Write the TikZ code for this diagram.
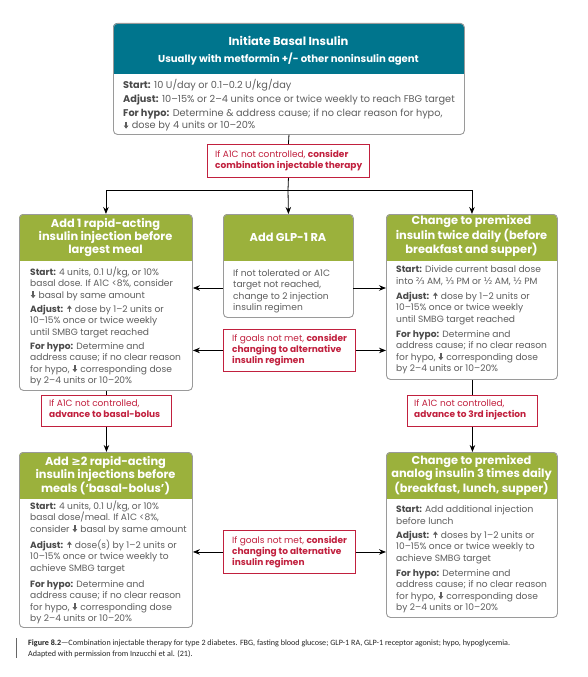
\documentclass[tikz,border=0pt]{standalone}
\usepackage{fontspec}
\setmainfont{Poppins}
\newfontfamily\symf{DejaVu Sans}
\newfontfamily\capf{Carlito}
\usetikzlibrary{arrows.meta}
\definecolor{hdteal}{HTML}{00758D}
\definecolor{hdgreen}{HTML}{9BB13C}
\definecolor{rdred}{HTML}{C1203E}
\definecolor{bxgray}{HTML}{9A9A9A}
\definecolor{txgray}{HTML}{5E5E5E}
\definecolor{lbgray}{HTML}{4A4A4A}
\newcommand\darr{\kern0.6pt\tikz[baseline=0pt,x=1pt,y=1pt]{\draw[txgray, line width=1.3pt, -{Triangle[length=3.2pt,width=4.6pt]}] (0,6.6) -- (0,-0.2);}\kern0.8pt}
\newcommand\uarr{\kern0.6pt\tikz[baseline=0pt,x=1pt,y=1pt]{\draw[txgray, line width=1.3pt, -{Triangle[length=3.2pt,width=4.6pt]}] (0,-0.2) -- (0,6.6);}\kern0.8pt}
\newcommand\lb[1]{{\bfseries\color{lbgray}#1}}
\newcommand\fr[1]{{\symf #1}}
% header fill: x1 y1 x2 y2 yh colour
\newcommand\hdfill[6]{%
  \begin{scope}
    \clip[rounded corners=4pt] (#1,#2) rectangle (#3,#4);
    \fill[#6] (#1,#2) rectangle (#3,#5);
  \end{scope}}
\tikzset{
  panel/.style={draw=bxgray, line width=0.9pt, rounded corners=4pt, inner sep=0pt, anchor=north west},
  redbox/.style={draw=rdred, line width=0.9pt, fill=white, inner sep=0pt, anchor=north west},
  hdtext/.style={anchor=base, align=center, inner sep=0pt, text=white, font=\bfseries\fontsize{11.4}{13}\selectfont},
  bodytext/.style={anchor=base west, align=left, inner sep=0pt, text=txgray, font=\fontsize{9.1}{11.5}\selectfont},
  redtext/.style={anchor=base west, align=left, inner sep=0pt, text=rdred, font=\fontsize{9}{11}\selectfont},
  arr/.style={-{Stealth[length=7pt,width=5.5pt]}, line width=0.8pt, black},
  conn/.style={line width=0.8pt, black},
}
\begin{document}
\begin{tikzpicture}[x=1pt,y=-1pt]
\fill[white] (0,0) rectangle (587,677);
\useasboundingbox (0,0) rectangle (587,677);

% ---- top box
\hdfill{113}{23}{464}{134}{74}{hdteal}
\node[panel, minimum width=351pt, minimum height=111pt] (top) at (113,23) {};
\node[hdtext, font=\bfseries\fontsize{11.5}{13}\selectfont] (toph1) at (288.5,46) {Initiate Basal Insulin};
\node[hdtext, font=\bfseries\fontsize{10.1}{13}\selectfont] (toph2) at (288.5,62.5) {Usually with metformin +/- other noninsulin agent};
\node[bodytext, font=\fontsize{9.75}{13}\selectfont] (topb) at (123,128.5) {%
\lb{Start:} 10 U/day or 0.1–0.2 U/kg/day\\[1pt]
\lb{Adjust:} 10–15\% or 2–4 units once or twice weekly to reach FBG target\\[1pt]
\lb{For hypo:} Determine \& address cause; if no clear reason for hypo,\\[-0.5pt]
\darr\ dose by 4 units or 10–20\%};

% ---- red box 1
\node[redbox, minimum width=162pt, minimum height=33pt] (r1) at (207,144) {};
\node[redtext] (r1t) at (215,168.5) {If A1C not controlled, \textbf{consider}\\\textbf{combination injectable therapy}};

% ---- left box 1
\hdfill{19}{214}{192}{390}{261}{hdgreen}
\node[panel, minimum width=173pt, minimum height=176pt] (L1) at (19,214) {};
\node[hdtext] (L1h) at (105.5,253.5) {Add 1 rapid-acting\\insulin injection before\\largest meal};
\node[bodytext] (L1b) at (30,383.5) {%
\lb{Start:} 4 units, 0.1 U/kg, or 10\%\\
basal dose. If A1C <8\%, consider\\
\darr\ basal by same amount\\[2.5pt]
\lb{Adjust:} \uarr\ dose by 1–2 units or\\
10–15\% once or twice weekly\\
until SMBG target reached\\[2.5pt]
\lb{For hypo:} Determine and\\
address cause; if no clear reason\\
for hypo, \darr\ corresponding dose\\
by 2–4 units or 10–20\%};

% ---- GLP box
\hdfill{223}{214}{353}{317}{261}{hdgreen}
\node[panel, minimum width=130pt, minimum height=103pt] (G) at (223,214) {};
\node[hdtext] (Gh) at (288,241.5) {Add GLP-1 RA};
\node[bodytext] (Gb) at (233,310.5) {If not tolerated or A1C\\target not reached,\\change to 2 injection\\insulin regimen};

% ---- goals box 1
\node[redbox, minimum width=132pt, minimum height=42pt] (g1) at (223,329) {};
\node[redtext] (g1t) at (232,363.5) {If goals not met, \textbf{consider}\\\textbf{changing to alternative}\\\textbf{insulin regimen}};

% ---- right box 1
\hdfill{386}{214}{557}{379}{261}{hdgreen}
\node[panel, minimum width=171pt, minimum height=165pt] (R1) at (386,214) {};
\node[hdtext] (R1h) at (471.5,253.5) {Change to premixed\\insulin twice daily (before\\breakfast and supper)};
\node[bodytext] (R1b) at (396,371.5) {%
\lb{Start:} Divide current basal dose\\
into \fr{⅔} AM, \fr{⅓} PM or \fr{½} AM, \fr{½} PM\\[3.5pt]
\lb{Adjust:} \uarr\ dose by 1–2 units or\\
10–15\% once or twice weekly\\
until SMBG target reached\\[3.5pt]
\lb{For hypo:} Determine and\\
address cause; if no clear reason\\
for hypo, \darr\ corresponding dose\\
by 2–4 units or 10–20\%};

% ---- red boxes level 2
\node[redbox, minimum width=130pt, minimum height=31pt] (r2l) at (41,395) {};
\node[redtext] (r2lt) at (49,417.5) {If A1C not controlled,\\\textbf{advance to basal-bolus}};
\node[redbox, minimum width=130pt, minimum height=31pt] (r2r) at (407,395) {};
\node[redtext] (r2rt) at (414,417.5) {If A1C not controlled,\\\textbf{advance to 3rd injection}};

% ---- left box 2
\hdfill{19}{452}{192}{627}{499}{hdgreen}
\node[panel, minimum width=173pt, minimum height=175pt] (L2) at (19,452) {};
\node[hdtext] (L2h) at (105.5,492.5) {Add \fr{\bfseries ≥}2 rapid-acting\\insulin injections before\\meals (‘basal-bolus’)};
\node[bodytext] (L2b) at (30,621.5) {%
\lb{Start:} 4 units, 0.1 U/kg, or 10\%\\
basal dose/meal. If A1C <8\%,\\
consider \darr\ basal by same amount\\[4.5pt]
\lb{Adjust:} \uarr\ dose(s) by 1–2 units or\\
10–15\% once or twice weekly to\\
achieve SMBG target\\[4.5pt]
\lb{For hypo:} Determine and\\
address cause; if no clear reason\\
for hypo, \darr\ corresponding dose\\
by 2–4 units or 10–20\%};

% ---- goals box 2
\node[redbox, minimum width=132pt, minimum height=43pt] (g2) at (223,530) {};
\node[redtext] (g2t) at (232,565) {If goals not met, \textbf{consider}\\\textbf{changing to alternative}\\\textbf{insulin regimen}};

% ---- right box 2
\hdfill{386}{452}{557}{617}{499}{hdgreen}
\node[panel, minimum width=171pt, minimum height=165pt] (R2) at (386,452) {};
\node[hdtext] (R2h) at (471.5,492.5) {Change to premixed\\analog insulin 3 times daily\\(breakfast, lunch, supper)};
\node[bodytext] (R2b) at (396,610.5) {%
\lb{Start:} Add additional injection\\
before lunch\\[2.5pt]
\lb{Adjust:} \uarr\ doses by 1–2 units or\\
10–15\% once or twice weekly to\\
achieve SMBG target\\[3.5pt]
\lb{For hypo:} Determine and\\
address cause; if no clear reason\\
for hypo, \darr\ corresponding dose\\
by 2–4 units or 10–20\%};

% ---- connectors
\draw[conn] (top.south) -- (r1.north);
\coordinate (bar) at (288,190);
\draw[conn] (r1.south) -- (bar);
\draw[arr] (bar) -- (G.north);
\draw[arr] (bar) -| (L1.north);
\draw[arr] (bar) -| (R1.north);
\coordinate (ga) at (223,288);
\coordinate (gb) at (353,288);
\draw[arr] (ga) -- (ga -| L1.east);
\draw[arr] (gb) -- (gb -| R1.west);
\draw[arr] (g1.west) -- (g1.west -| L1.east);
\draw[arr] (g1.east) -- (g1.east -| R1.west);
\draw[conn] (L1.south) -- (L1.south |- r2l.north);
\draw[arr] (r2l.south) -- (r2l.south |- L2.north);
\draw[conn] (R1.south) -- (R1.south |- r2r.north);
\draw[arr] (r2r.south) -- (r2r.south |- R2.north);
\draw[arr] (g2.west) -- (g2.west -| L2.east);
\draw[arr] (g2.east) -- (g2.east -| R2.west);

% ---- caption
\draw[line width=0.8pt, black!60] (16,638) -- (16,658);
\node[anchor=base west, align=left, inner sep=0pt, text=black!85, font=\capf\fontsize{8.1}{10.5}\selectfont] (cap) at (28,656) {\textbf{Figure 8.2}—Combination injectable therapy for type 2 diabetes. FBG, fasting blood glucose; GLP-1 RA, GLP-1 receptor agonist; hypo, hypoglycemia.\\Adapted with permission from Inzucchi et al. (21).};
\end{tikzpicture}
\end{document}
